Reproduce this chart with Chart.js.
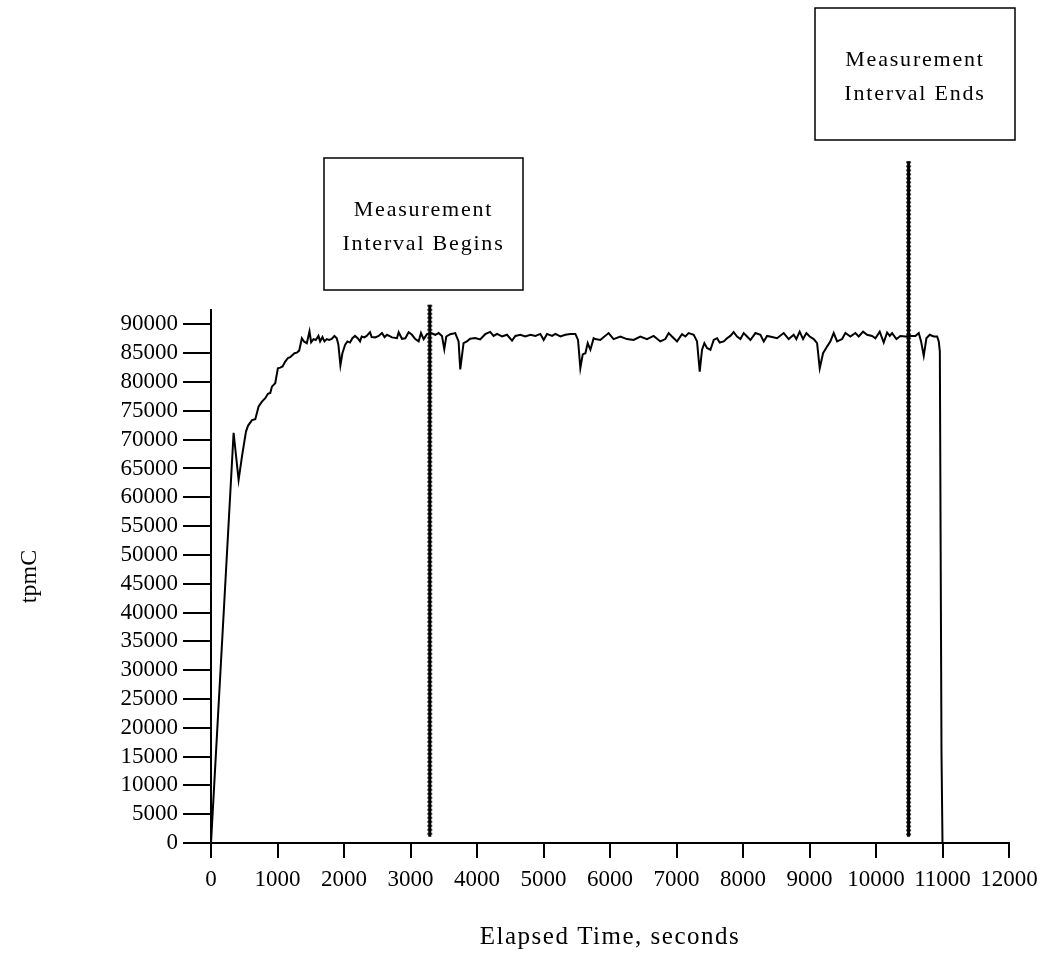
<!DOCTYPE html>
<html>
<head>
<meta charset="utf-8">
<title>tpmC over elapsed time</title>
<script src="https://cdn.jsdelivr.net/npm/chart.js@4/dist/chart.umd.min.js"></script>
<style>
  html, body { margin: 0; padding: 0; background: #fff; }
  canvas { display: block; }
</style>
</head>
<body>
<canvas id="tpmChart" width="1042" height="954"></canvas>
<script>
// elapsed time (s) and throughput readings
const elapsed = [
    0, 340, 415, 466, 526, 556, 616, 666, 716, 766, 816, 856, 891, 916, 941, 966,
    1006, 1041, 1076, 1116, 1156, 1191, 1226, 1256, 1291, 1326, 1366, 1401, 1441, 1481,
    1506, 1541, 1576, 1616, 1641, 1676, 1706, 1741, 1776, 1816, 1856, 1891, 1916, 1946,
    1976, 2016, 2051, 2091, 2126, 2166, 2206, 2241, 2266, 2306, 2341, 2391, 2416, 2471,
    2521, 2571, 2610, 2647, 2722, 2797, 2822, 2872, 2922, 2972, 3022, 3072, 3122, 3158,
    3198, 3248, 3308, 3373, 3423, 3473, 3508, 3538, 3598, 3673, 3723, 3748, 3798, 3848,
    3898, 3973, 4048, 4123, 4198, 4250, 4301, 4377, 4452, 4527, 4577, 4652, 4727, 4802,
    4878, 4953, 5003, 5053, 5129, 5179, 5254, 5329, 5404, 5479, 5519, 5554, 5590, 5630,
    5665, 5705, 5754, 5779, 5854, 5979, 6054, 6155, 6255, 6355, 6456, 6556, 6656, 6757,
    6832, 6882, 6932, 7008, 7083, 7133, 7183, 7259, 7309, 7349, 7384, 7419, 7459, 7510,
    7560, 7610, 7650, 7710, 7760, 7810, 7860, 7911, 7961, 8011, 8061, 8112, 8187, 8262,
    8312, 8362, 8437, 8512, 8612, 8687, 8762, 8802, 8852, 8903, 8953, 9003, 9063, 9114,
    9154, 9204, 9264, 9314, 9364, 9415, 9490, 9540, 9615, 9690, 9740, 9806, 9866, 9941,
    9991, 10056, 10116, 10167, 10207, 10242, 10307, 10367, 10442, 10518, 10593, 10643,
    10678, 10718, 10758, 10808, 10868, 10919, 10944, 10960, 10985, 11000
];
const tpmc = [
    0, 71200, 63000, 67100, 71400, 72400, 73400, 73550, 75750, 76600, 77200, 77950, 78100, 79200, 79500, 79800,
    82400, 82500, 82700, 83550, 84150, 84300, 84700, 85000, 85100, 85450, 87600, 87000, 86750, 88800,
    86900, 87450, 87300, 88000, 87050, 87800, 87050, 87450, 87300, 87500, 88000, 87600, 86450, 82900,
    85000, 86450, 87050, 86850, 87600, 88000, 87600, 87050, 87900, 87750, 88000, 88650, 87800, 87750,
    88000, 88500, 87800, 88200, 87750, 87600, 88650, 87500, 87600, 88650, 88200, 87450, 87050, 88500,
    87450, 88300, 88500, 88200, 88500, 88000, 85700, 87900, 88300, 88500, 87050, 82200, 86750, 87050,
    87500, 87650, 87400, 88300, 88700, 88000, 88350, 87900, 88200, 87200, 88000, 88200, 87900, 88200,
    88000, 88350, 87300, 88350, 88000, 88350, 87900, 88200, 88350, 88350, 87300, 82400, 84800, 85000,
    86750, 85600, 87600, 87450, 87300, 88500, 87450, 87900, 87450, 87300, 87900, 87450, 88000, 87050,
    87450, 88500, 87900, 87050, 88300, 87900, 88500, 88200, 87050, 81800, 85600, 86750, 85900, 85600,
    87300, 87600, 86850, 87050, 87600, 88000, 88650, 87900, 87450, 88500, 87900, 87300, 88500, 88200,
    87050, 88000, 87800, 87600, 88500, 87450, 88200, 87450, 88750, 87450, 88500, 87900, 87450, 86750,
    82400, 85000, 86150, 87050, 88500, 87050, 87450, 88500, 87900, 88500, 87900, 88750, 88200, 88000,
    87600, 88750, 86850, 88600, 88000, 88500, 87450, 88000, 87900, 88000, 88000, 88500,
    87050, 84550, 87600, 88200, 87900, 87900, 87050, 85300, 15500, 0
];

const xTicks = [0, 1000, 2000, 3000, 4000, 5000, 6000, 7000, 8000, 9000, 10000, 11000, 12000];
const yTicks = [0, 5000, 10000, 15000, 20000, 25000, 30000, 35000, 40000, 45000,
    50000, 55000, 60000, 65000, 70000, 75000, 80000, 85000, 90000];

// measurement interval markers: time, bottom and top of each bar
const markerTimes = [3290, 10490];
const markerBottoms = [1100, 1100];
const markerTops = [93400, 118300];
const markerLines = [["Measurement", "Interval Begins"], ["Measurement", "Interval Ends"]];

const xTitle = "Elapsed Time, seconds";
const yTitle = "tpmC";

const SERIF = "'Liberation Serif', 'Times New Roman', serif";

// boxes sit above the plot, one per marker
const boxRects = [
    { left: 324, top: 158, width: 199, height: 132 },
    { left: 815, top: 8, width: 200, height: 132 }
];

const markerPlugin = {
    id: "markers",
    afterDatasetsDraw(chart) {
        const ctx = chart.ctx;
        const xs = chart.scales.x;
        const ys = chart.scales.y;
        const area = chart.chartArea;
        ctx.save();

        markerTimes.forEach((t, i) => {
            const px = xs.getPixelForValue(t);
            const yTop = ys.getPixelForValue(markerTops[i]);
            const yBot = ys.getPixelForValue(markerBottoms[i]);
            ctx.strokeStyle = "#000";
            ctx.setLineDash([]);
            ctx.lineWidth = 3;
            ctx.beginPath();
            ctx.moveTo(px, yTop);
            ctx.lineTo(px, yBot);
            ctx.stroke();
            ctx.strokeStyle = "rgba(0,0,0,0.75)";
            ctx.lineWidth = 5;
            ctx.setLineDash([2, 2]);
            ctx.beginPath();
            ctx.moveTo(px, yTop);
            ctx.lineTo(px, yBot);
            ctx.stroke();
        });

        ctx.setLineDash([]);
        ctx.textAlign = "center";
        ctx.textBaseline = "alphabetic";
        boxRects.forEach((b, i) => {
            ctx.fillStyle = "#fff";
            ctx.fillRect(b.left, b.top, b.width, b.height);
            ctx.strokeStyle = "#000";
            ctx.lineWidth = 1.5;
            ctx.strokeRect(b.left, b.top, b.width, b.height);

            ctx.fillStyle = "#000";
            ctx.font = "22px " + SERIF;
            if ("letterSpacing" in ctx) ctx.letterSpacing = "1.8px";
            const cx = b.left + b.width / 2;
            markerLines[i].forEach((line, j) => {
                ctx.fillText(line, cx, b.top + 58 + j * 34);
            });
        });

        // axis titles
        ctx.fillStyle = "#000";
        ctx.textBaseline = "middle";
        ctx.font = "25px " + SERIF;
        if ("letterSpacing" in ctx) ctx.letterSpacing = "1.5px";
        ctx.fillText(xTitle, (area.left + area.right) / 2, 937);

        ctx.font = "24px " + SERIF;
        if ("letterSpacing" in ctx) ctx.letterSpacing = "0px";
        ctx.translate(30, (area.top + area.bottom) / 2);
        ctx.rotate(-Math.PI / 2);
        ctx.fillText(yTitle, 0, 0);
        ctx.restore();
    }
};

const ctx = document.getElementById("tpmChart").getContext("2d");

new Chart(ctx, {
    type: "line",
    data: {
        datasets: [{
            label: "tpmC",
            data: elapsed.map((t, i) => ({ x: t, y: tpmc[i] })),
            borderColor: "#000",
            borderWidth: 2,
            backgroundColor: "transparent",
            pointRadius: 0,
            tension: 0,
            clip: false
        }]
    },
    options: {
        responsive: false,
        animation: false,
        devicePixelRatio: 1,
        layout: { padding: { top: 310, right: 33, bottom: 0, left: 0 } },
        plugins: {
            legend: { display: false },
            tooltip: { enabled: false }
        },
        scales: {
            x: {
                type: "linear",
                min: 0,
                max: 12000,
                afterFit: (scale) => {
                    scale.height = 111;
                    scale.paddingLeft = 0;
                    scale.paddingRight = 0;
                },
                afterBuildTicks: (scale) => { scale.ticks = xTicks.map(v => ({ value: v })); },
                grid: { drawOnChartArea: false, drawTicks: true, tickLength: 15, color: "#000", lineWidth: 2 },
                border: { display: true, color: "#000", width: 2 },
                ticks: {
                    autoSkip: false,
                    maxRotation: 0,
                    padding: 8,
                    color: "#000",
                    font: { family: SERIF, size: 23 },
                    callback: (v) => String(v)
                }
            },
            y: {
                type: "linear",
                min: 0,
                max: 92500,
                afterFit: (scale) => { scale.width = 211; },
                afterBuildTicks: (scale) => { scale.ticks = yTicks.map(v => ({ value: v })); },
                grid: { drawOnChartArea: false, drawTicks: true, tickLength: 28, color: "#000", lineWidth: 2 },
                border: { display: true, color: "#000", width: 2 },
                ticks: {
                    autoSkip: false,
                    padding: 5,
                    color: "#000",
                    font: { family: SERIF, size: 23 },
                    callback: (v) => String(v)
                }
            }
        }
    },
    plugins: [markerPlugin]
});
</script>
</body>
</html>
